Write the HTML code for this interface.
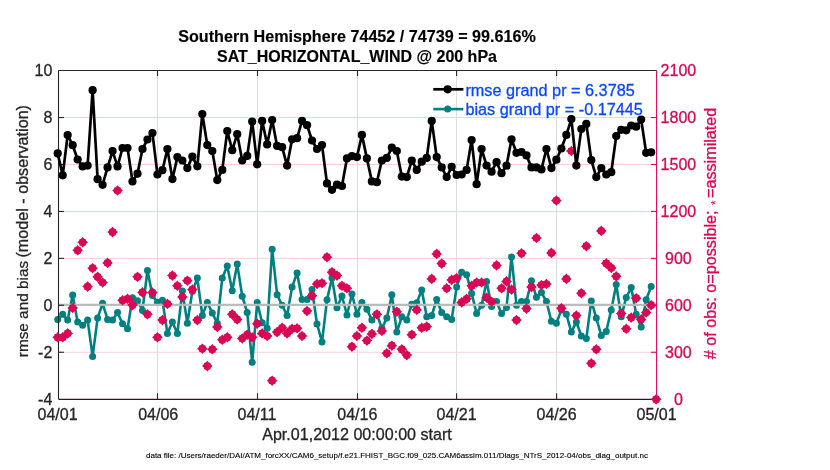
<!DOCTYPE html><html><head><meta charset="utf-8"><style>html,body{margin:0;padding:0;background:#fff;}svg{display:block;will-change:transform;}</style></head><body>
<svg width="830" height="470" viewBox="0 0 830 470">
<rect width="830" height="470" fill="#fff"/>
<line x1="157.50" y1="70.6" x2="157.50" y2="399.2" stroke="#dcdcdc" stroke-width="1"/>
<line x1="257.50" y1="70.6" x2="257.50" y2="399.2" stroke="#dcdcdc" stroke-width="1"/>
<line x1="357.50" y1="70.6" x2="357.50" y2="399.2" stroke="#dcdcdc" stroke-width="1"/>
<line x1="456.60" y1="70.6" x2="456.60" y2="399.2" stroke="#dcdcdc" stroke-width="1"/>
<line x1="556.60" y1="70.6" x2="556.60" y2="399.2" stroke="#dcdcdc" stroke-width="1"/>
<line x1="58.5" y1="117.54" x2="656.6" y2="117.54" stroke="#f6d0dc" stroke-width="1"/>
<line x1="58.5" y1="164.49" x2="656.6" y2="164.49" stroke="#f6d0dc" stroke-width="1"/>
<line x1="58.5" y1="211.43" x2="656.6" y2="211.43" stroke="#f6d0dc" stroke-width="1"/>
<line x1="58.5" y1="258.37" x2="656.6" y2="258.37" stroke="#f6d0dc" stroke-width="1"/>
<line x1="58.5" y1="305.31" x2="656.6" y2="305.31" stroke="#f6d0dc" stroke-width="1"/>
<line x1="58.5" y1="352.26" x2="656.6" y2="352.26" stroke="#f6d0dc" stroke-width="1"/>
<polyline points="57.70,319.40 62.69,314.30 67.67,320.10 72.66,295.00 77.65,321.90 82.64,325.20 87.62,320.10 92.61,356.40 97.60,318.10 102.58,303.30 107.57,319.40 112.56,320.10 117.54,312.50 122.53,323.70 127.52,328.80 132.50,297.70 137.49,300.70 142.48,310.40 147.47,270.50 152.45,295.60 157.44,302.30 162.43,300.20 167.41,333.40 172.40,321.90 177.39,333.40 182.38,290.90 187.36,323.20 192.35,291.30 197.34,278.10 202.32,315.50 207.31,302.40 212.30,313.00 217.28,323.20 222.27,278.10 227.26,266.10 232.25,290.80 237.23,264.10 242.22,296.20 247.21,312.50 252.19,362.30 257.18,302.60 262.17,322.70 267.15,328.30 272.14,249.30 277.13,294.70 282.12,305.20 287.10,315.50 292.09,287.10 297.08,273.00 302.06,299.50 307.05,299.50 312.04,289.50 317.02,324.00 322.01,341.90 327.00,299.80 331.99,278.10 336.97,307.70 341.96,296.00 346.95,315.00 351.93,294.00 356.92,314.30 361.91,302.40 366.89,309.20 371.88,320.10 376.87,314.30 381.86,328.30 386.84,318.10 391.83,294.70 396.82,332.10 401.80,316.80 406.79,320.10 411.78,304.20 416.76,302.80 421.75,290.00 426.74,316.80 431.73,315.50 436.71,299.50 441.70,312.50 446.69,316.80 451.67,319.40 456.66,287.10 461.65,272.20 466.63,274.80 471.62,293.40 476.61,313.50 481.59,305.30 486.58,281.40 491.57,306.60 496.56,301.50 501.54,313.50 506.53,307.40 511.52,256.90 516.50,305.30 521.49,301.50 526.48,301.50 531.47,280.70 536.45,297.30 541.44,292.60 546.43,301.50 551.41,321.20 556.40,323.20 561.39,309.90 566.37,314.30 571.36,332.10 576.35,321.90 581.34,336.00 586.32,338.50 591.31,300.90 596.30,318.10 601.28,335.50 606.27,331.40 611.26,309.90 616.24,284.50 621.23,316.80 626.22,297.50 631.21,287.60 636.19,314.30 641.18,327.00 646.17,299.70 651.15,286.60" fill="none" stroke="#008080" stroke-width="2.6" stroke-linejoin="round"/>
<circle cx="57.70" cy="319.40" r="3.5" fill="#008080"/>
<circle cx="62.69" cy="314.30" r="3.5" fill="#008080"/>
<circle cx="67.67" cy="320.10" r="3.5" fill="#008080"/>
<circle cx="72.66" cy="295.00" r="3.5" fill="#008080"/>
<circle cx="77.65" cy="321.90" r="3.5" fill="#008080"/>
<circle cx="82.64" cy="325.20" r="3.5" fill="#008080"/>
<circle cx="87.62" cy="320.10" r="3.5" fill="#008080"/>
<circle cx="92.61" cy="356.40" r="3.5" fill="#008080"/>
<circle cx="97.60" cy="318.10" r="3.5" fill="#008080"/>
<circle cx="102.58" cy="303.30" r="3.5" fill="#008080"/>
<circle cx="107.57" cy="319.40" r="3.5" fill="#008080"/>
<circle cx="112.56" cy="320.10" r="3.5" fill="#008080"/>
<circle cx="117.54" cy="312.50" r="3.5" fill="#008080"/>
<circle cx="122.53" cy="323.70" r="3.5" fill="#008080"/>
<circle cx="127.52" cy="328.80" r="3.5" fill="#008080"/>
<circle cx="132.50" cy="297.70" r="3.5" fill="#008080"/>
<circle cx="137.49" cy="300.70" r="3.5" fill="#008080"/>
<circle cx="142.48" cy="310.40" r="3.5" fill="#008080"/>
<circle cx="147.47" cy="270.50" r="3.5" fill="#008080"/>
<circle cx="152.45" cy="295.60" r="3.5" fill="#008080"/>
<circle cx="157.44" cy="302.30" r="3.5" fill="#008080"/>
<circle cx="162.43" cy="300.20" r="3.5" fill="#008080"/>
<circle cx="167.41" cy="333.40" r="3.5" fill="#008080"/>
<circle cx="172.40" cy="321.90" r="3.5" fill="#008080"/>
<circle cx="177.39" cy="333.40" r="3.5" fill="#008080"/>
<circle cx="182.38" cy="290.90" r="3.5" fill="#008080"/>
<circle cx="187.36" cy="323.20" r="3.5" fill="#008080"/>
<circle cx="192.35" cy="291.30" r="3.5" fill="#008080"/>
<circle cx="197.34" cy="278.10" r="3.5" fill="#008080"/>
<circle cx="202.32" cy="315.50" r="3.5" fill="#008080"/>
<circle cx="207.31" cy="302.40" r="3.5" fill="#008080"/>
<circle cx="212.30" cy="313.00" r="3.5" fill="#008080"/>
<circle cx="217.28" cy="323.20" r="3.5" fill="#008080"/>
<circle cx="222.27" cy="278.10" r="3.5" fill="#008080"/>
<circle cx="227.26" cy="266.10" r="3.5" fill="#008080"/>
<circle cx="232.25" cy="290.80" r="3.5" fill="#008080"/>
<circle cx="237.23" cy="264.10" r="3.5" fill="#008080"/>
<circle cx="242.22" cy="296.20" r="3.5" fill="#008080"/>
<circle cx="247.21" cy="312.50" r="3.5" fill="#008080"/>
<circle cx="252.19" cy="362.30" r="3.5" fill="#008080"/>
<circle cx="257.18" cy="302.60" r="3.5" fill="#008080"/>
<circle cx="262.17" cy="322.70" r="3.5" fill="#008080"/>
<circle cx="267.15" cy="328.30" r="3.5" fill="#008080"/>
<circle cx="272.14" cy="249.30" r="3.5" fill="#008080"/>
<circle cx="277.13" cy="294.70" r="3.5" fill="#008080"/>
<circle cx="282.12" cy="305.20" r="3.5" fill="#008080"/>
<circle cx="287.10" cy="315.50" r="3.5" fill="#008080"/>
<circle cx="292.09" cy="287.10" r="3.5" fill="#008080"/>
<circle cx="297.08" cy="273.00" r="3.5" fill="#008080"/>
<circle cx="302.06" cy="299.50" r="3.5" fill="#008080"/>
<circle cx="307.05" cy="299.50" r="3.5" fill="#008080"/>
<circle cx="312.04" cy="289.50" r="3.5" fill="#008080"/>
<circle cx="317.02" cy="324.00" r="3.5" fill="#008080"/>
<circle cx="322.01" cy="341.90" r="3.5" fill="#008080"/>
<circle cx="327.00" cy="299.80" r="3.5" fill="#008080"/>
<circle cx="331.99" cy="278.10" r="3.5" fill="#008080"/>
<circle cx="336.97" cy="307.70" r="3.5" fill="#008080"/>
<circle cx="341.96" cy="296.00" r="3.5" fill="#008080"/>
<circle cx="346.95" cy="315.00" r="3.5" fill="#008080"/>
<circle cx="351.93" cy="294.00" r="3.5" fill="#008080"/>
<circle cx="356.92" cy="314.30" r="3.5" fill="#008080"/>
<circle cx="361.91" cy="302.40" r="3.5" fill="#008080"/>
<circle cx="366.89" cy="309.20" r="3.5" fill="#008080"/>
<circle cx="371.88" cy="320.10" r="3.5" fill="#008080"/>
<circle cx="376.87" cy="314.30" r="3.5" fill="#008080"/>
<circle cx="381.86" cy="328.30" r="3.5" fill="#008080"/>
<circle cx="386.84" cy="318.10" r="3.5" fill="#008080"/>
<circle cx="391.83" cy="294.70" r="3.5" fill="#008080"/>
<circle cx="396.82" cy="332.10" r="3.5" fill="#008080"/>
<circle cx="401.80" cy="316.80" r="3.5" fill="#008080"/>
<circle cx="406.79" cy="320.10" r="3.5" fill="#008080"/>
<circle cx="411.78" cy="304.20" r="3.5" fill="#008080"/>
<circle cx="416.76" cy="302.80" r="3.5" fill="#008080"/>
<circle cx="421.75" cy="290.00" r="3.5" fill="#008080"/>
<circle cx="426.74" cy="316.80" r="3.5" fill="#008080"/>
<circle cx="431.73" cy="315.50" r="3.5" fill="#008080"/>
<circle cx="436.71" cy="299.50" r="3.5" fill="#008080"/>
<circle cx="441.70" cy="312.50" r="3.5" fill="#008080"/>
<circle cx="446.69" cy="316.80" r="3.5" fill="#008080"/>
<circle cx="451.67" cy="319.40" r="3.5" fill="#008080"/>
<circle cx="456.66" cy="287.10" r="3.5" fill="#008080"/>
<circle cx="461.65" cy="272.20" r="3.5" fill="#008080"/>
<circle cx="466.63" cy="274.80" r="3.5" fill="#008080"/>
<circle cx="471.62" cy="293.40" r="3.5" fill="#008080"/>
<circle cx="476.61" cy="313.50" r="3.5" fill="#008080"/>
<circle cx="481.59" cy="305.30" r="3.5" fill="#008080"/>
<circle cx="486.58" cy="281.40" r="3.5" fill="#008080"/>
<circle cx="491.57" cy="306.60" r="3.5" fill="#008080"/>
<circle cx="496.56" cy="301.50" r="3.5" fill="#008080"/>
<circle cx="501.54" cy="313.50" r="3.5" fill="#008080"/>
<circle cx="506.53" cy="307.40" r="3.5" fill="#008080"/>
<circle cx="511.52" cy="256.90" r="3.5" fill="#008080"/>
<circle cx="516.50" cy="305.30" r="3.5" fill="#008080"/>
<circle cx="521.49" cy="301.50" r="3.5" fill="#008080"/>
<circle cx="526.48" cy="301.50" r="3.5" fill="#008080"/>
<circle cx="531.47" cy="280.70" r="3.5" fill="#008080"/>
<circle cx="536.45" cy="297.30" r="3.5" fill="#008080"/>
<circle cx="541.44" cy="292.60" r="3.5" fill="#008080"/>
<circle cx="546.43" cy="301.50" r="3.5" fill="#008080"/>
<circle cx="551.41" cy="321.20" r="3.5" fill="#008080"/>
<circle cx="556.40" cy="323.20" r="3.5" fill="#008080"/>
<circle cx="561.39" cy="309.90" r="3.5" fill="#008080"/>
<circle cx="566.37" cy="314.30" r="3.5" fill="#008080"/>
<circle cx="571.36" cy="332.10" r="3.5" fill="#008080"/>
<circle cx="576.35" cy="321.90" r="3.5" fill="#008080"/>
<circle cx="581.34" cy="336.00" r="3.5" fill="#008080"/>
<circle cx="586.32" cy="338.50" r="3.5" fill="#008080"/>
<circle cx="591.31" cy="300.90" r="3.5" fill="#008080"/>
<circle cx="596.30" cy="318.10" r="3.5" fill="#008080"/>
<circle cx="601.28" cy="335.50" r="3.5" fill="#008080"/>
<circle cx="606.27" cy="331.40" r="3.5" fill="#008080"/>
<circle cx="611.26" cy="309.90" r="3.5" fill="#008080"/>
<circle cx="616.24" cy="284.50" r="3.5" fill="#008080"/>
<circle cx="621.23" cy="316.80" r="3.5" fill="#008080"/>
<circle cx="626.22" cy="297.50" r="3.5" fill="#008080"/>
<circle cx="631.21" cy="287.60" r="3.5" fill="#008080"/>
<circle cx="636.19" cy="314.30" r="3.5" fill="#008080"/>
<circle cx="641.18" cy="327.00" r="3.5" fill="#008080"/>
<circle cx="646.17" cy="299.70" r="3.5" fill="#008080"/>
<circle cx="651.15" cy="286.60" r="3.5" fill="#008080"/>
<line x1="58.5" y1="304.41" x2="656.6" y2="304.41" stroke="#b9b9b9" stroke-width="1.2"/>
<line x1="58.5" y1="305.61" x2="656.6" y2="305.61" stroke="#dcaabb" stroke-width="1"/>
<line x1="58.5" y1="70.5" x2="656.6" y2="70.5" stroke="#262626" stroke-width="1.1"/>
<line x1="58.5" y1="399.3" x2="656.6" y2="399.3" stroke="#3a1020" stroke-width="1.2"/>
<line x1="58.5" y1="70.6" x2="58.5" y2="399.2" stroke="#262626" stroke-width="1.1"/>
<line x1="656.6" y1="70.6" x2="656.6" y2="399.2" stroke="#d90754" stroke-width="1.1"/>
<line x1="157.50" y1="399.2" x2="157.50" y2="393.2" stroke="#262626" stroke-width="1.1"/>
<line x1="157.50" y1="70.6" x2="157.50" y2="76.1" stroke="#262626" stroke-width="1.1"/>
<line x1="257.50" y1="399.2" x2="257.50" y2="393.2" stroke="#262626" stroke-width="1.1"/>
<line x1="257.50" y1="70.6" x2="257.50" y2="76.1" stroke="#262626" stroke-width="1.1"/>
<line x1="357.50" y1="399.2" x2="357.50" y2="393.2" stroke="#262626" stroke-width="1.1"/>
<line x1="357.50" y1="70.6" x2="357.50" y2="76.1" stroke="#262626" stroke-width="1.1"/>
<line x1="456.60" y1="399.2" x2="456.60" y2="393.2" stroke="#262626" stroke-width="1.1"/>
<line x1="456.60" y1="70.6" x2="456.60" y2="76.1" stroke="#262626" stroke-width="1.1"/>
<line x1="556.60" y1="399.2" x2="556.60" y2="393.2" stroke="#262626" stroke-width="1.1"/>
<line x1="556.60" y1="70.6" x2="556.60" y2="76.1" stroke="#262626" stroke-width="1.1"/>
<line x1="58.5" y1="117.54" x2="64.0" y2="117.54" stroke="#262626" stroke-width="1.1"/>
<line x1="656.6" y1="117.54" x2="651.1" y2="117.54" stroke="#d90754" stroke-width="1.1"/>
<line x1="58.5" y1="164.49" x2="64.0" y2="164.49" stroke="#262626" stroke-width="1.1"/>
<line x1="656.6" y1="164.49" x2="651.1" y2="164.49" stroke="#d90754" stroke-width="1.1"/>
<line x1="58.5" y1="211.43" x2="64.0" y2="211.43" stroke="#262626" stroke-width="1.1"/>
<line x1="656.6" y1="211.43" x2="651.1" y2="211.43" stroke="#d90754" stroke-width="1.1"/>
<line x1="58.5" y1="258.37" x2="64.0" y2="258.37" stroke="#262626" stroke-width="1.1"/>
<line x1="656.6" y1="258.37" x2="651.1" y2="258.37" stroke="#d90754" stroke-width="1.1"/>
<line x1="58.5" y1="305.31" x2="64.0" y2="305.31" stroke="#262626" stroke-width="1.1"/>
<line x1="656.6" y1="305.31" x2="651.1" y2="305.31" stroke="#d90754" stroke-width="1.1"/>
<line x1="58.5" y1="352.26" x2="64.0" y2="352.26" stroke="#262626" stroke-width="1.1"/>
<line x1="656.6" y1="352.26" x2="651.1" y2="352.26" stroke="#d90754" stroke-width="1.1"/>
<defs><polygon id="pm" points="0.00,-5.30 1.49,-3.60 3.11,-3.11 3.60,-1.49 5.30,-0.00 3.60,1.49 3.11,3.11 1.49,3.60 0.00,5.30 -1.49,3.60 -3.11,3.11 -3.60,1.49 -5.30,0.00 -3.60,-1.49 -3.11,-3.11 -1.49,-3.60" fill="#d90754"/></defs>
<use href="#pm" x="57.70" y="337.30"/>
<use href="#pm" x="62.69" y="337.30"/>
<use href="#pm" x="67.67" y="333.40"/>
<use href="#pm" x="72.66" y="308.00"/>
<use href="#pm" x="77.65" y="250.30"/>
<use href="#pm" x="82.64" y="242.30"/>
<use href="#pm" x="87.62" y="286.60"/>
<use href="#pm" x="92.61" y="268.20"/>
<use href="#pm" x="97.60" y="276.80"/>
<use href="#pm" x="102.58" y="282.50"/>
<use href="#pm" x="107.57" y="262.90"/>
<use href="#pm" x="112.56" y="232.10"/>
<use href="#pm" x="117.54" y="190.50"/>
<use href="#pm" x="122.53" y="300.30"/>
<use href="#pm" x="127.52" y="298.80"/>
<use href="#pm" x="132.50" y="305.10"/>
<use href="#pm" x="137.49" y="276.80"/>
<use href="#pm" x="142.48" y="292.40"/>
<use href="#pm" x="147.47" y="314.30"/>
<use href="#pm" x="152.45" y="292.60"/>
<use href="#pm" x="157.44" y="337.30"/>
<use href="#pm" x="162.43" y="320.10"/>
<use href="#pm" x="167.41" y="303.90"/>
<use href="#pm" x="172.40" y="275.60"/>
<use href="#pm" x="177.39" y="285.80"/>
<use href="#pm" x="182.38" y="297.00"/>
<use href="#pm" x="187.36" y="280.70"/>
<use href="#pm" x="192.35" y="289.60"/>
<use href="#pm" x="197.34" y="320.10"/>
<use href="#pm" x="202.32" y="348.70"/>
<use href="#pm" x="207.31" y="366.10"/>
<use href="#pm" x="212.30" y="349.30"/>
<use href="#pm" x="217.28" y="327.00"/>
<use href="#pm" x="222.27" y="339.80"/>
<use href="#pm" x="227.26" y="337.30"/>
<use href="#pm" x="232.25" y="314.30"/>
<use href="#pm" x="237.23" y="319.40"/>
<use href="#pm" x="242.22" y="338.50"/>
<use href="#pm" x="247.21" y="334.70"/>
<use href="#pm" x="252.19" y="337.30"/>
<use href="#pm" x="257.18" y="323.70"/>
<use href="#pm" x="262.17" y="333.40"/>
<use href="#pm" x="267.15" y="336.00"/>
<use href="#pm" x="272.14" y="380.70"/>
<use href="#pm" x="277.13" y="332.10"/>
<use href="#pm" x="282.12" y="327.80"/>
<use href="#pm" x="287.10" y="333.40"/>
<use href="#pm" x="292.09" y="328.80"/>
<use href="#pm" x="297.08" y="328.30"/>
<use href="#pm" x="302.06" y="336.00"/>
<use href="#pm" x="307.05" y="311.00"/>
<use href="#pm" x="312.04" y="295.80"/>
<use href="#pm" x="317.02" y="284.00"/>
<use href="#pm" x="322.01" y="283.20"/>
<use href="#pm" x="327.00" y="257.20"/>
<use href="#pm" x="331.99" y="272.20"/>
<use href="#pm" x="336.97" y="275.60"/>
<use href="#pm" x="341.96" y="285.80"/>
<use href="#pm" x="346.95" y="288.30"/>
<use href="#pm" x="351.93" y="346.70"/>
<use href="#pm" x="356.92" y="336.00"/>
<use href="#pm" x="361.91" y="327.80"/>
<use href="#pm" x="366.89" y="340.60"/>
<use href="#pm" x="371.88" y="333.90"/>
<use href="#pm" x="376.87" y="314.30"/>
<use href="#pm" x="381.86" y="330.90"/>
<use href="#pm" x="386.84" y="353.30"/>
<use href="#pm" x="391.83" y="345.70"/>
<use href="#pm" x="396.82" y="311.70"/>
<use href="#pm" x="401.80" y="349.30"/>
<use href="#pm" x="406.79" y="355.10"/>
<use href="#pm" x="411.78" y="334.70"/>
<use href="#pm" x="416.76" y="309.90"/>
<use href="#pm" x="421.75" y="327.80"/>
<use href="#pm" x="426.74" y="326.60"/>
<use href="#pm" x="431.73" y="278.90"/>
<use href="#pm" x="436.71" y="253.90"/>
<use href="#pm" x="441.70" y="263.60"/>
<use href="#pm" x="446.69" y="288.30"/>
<use href="#pm" x="451.67" y="279.90"/>
<use href="#pm" x="456.66" y="278.10"/>
<use href="#pm" x="461.65" y="302.40"/>
<use href="#pm" x="466.63" y="298.80"/>
<use href="#pm" x="471.62" y="285.80"/>
<use href="#pm" x="476.61" y="282.50"/>
<use href="#pm" x="481.59" y="282.50"/>
<use href="#pm" x="486.58" y="297.70"/>
<use href="#pm" x="491.57" y="301.70"/>
<use href="#pm" x="496.56" y="265.40"/>
<use href="#pm" x="501.54" y="288.30"/>
<use href="#pm" x="506.53" y="281.40"/>
<use href="#pm" x="511.52" y="289.60"/>
<use href="#pm" x="516.50" y="320.10"/>
<use href="#pm" x="521.49" y="253.30"/>
<use href="#pm" x="526.48" y="308.60"/>
<use href="#pm" x="531.47" y="287.10"/>
<use href="#pm" x="536.45" y="238.00"/>
<use href="#pm" x="541.44" y="285.00"/>
<use href="#pm" x="546.43" y="284.00"/>
<use href="#pm" x="551.41" y="252.90"/>
<use href="#pm" x="556.40" y="200.50"/>
<use href="#pm" x="561.39" y="308.20"/>
<use href="#pm" x="566.37" y="278.90"/>
<use href="#pm" x="571.36" y="151.00"/>
<use href="#pm" x="576.35" y="315.50"/>
<use href="#pm" x="581.34" y="293.20"/>
<use href="#pm" x="586.32" y="246.20"/>
<use href="#pm" x="591.31" y="363.30"/>
<use href="#pm" x="596.30" y="349.30"/>
<use href="#pm" x="601.28" y="230.90"/>
<use href="#pm" x="606.27" y="263.30"/>
<use href="#pm" x="611.26" y="267.90"/>
<use href="#pm" x="616.24" y="276.30"/>
<use href="#pm" x="621.23" y="313.50"/>
<use href="#pm" x="626.22" y="328.80"/>
<use href="#pm" x="631.21" y="317.60"/>
<use href="#pm" x="636.19" y="298.20"/>
<use href="#pm" x="641.18" y="319.40"/>
<use href="#pm" x="646.17" y="312.50"/>
<use href="#pm" x="651.15" y="305.20"/>
<use href="#pm" x="656.14" y="399.30"/>
<polyline points="57.70,153.40 62.69,175.30 67.67,135.00 72.66,145.20 77.65,159.50 82.64,166.40 87.62,165.60 92.61,90.20 97.60,179.20 102.58,184.80 107.57,167.40 112.56,151.10 117.54,166.40 122.53,148.00 127.52,148.00 132.50,181.50 137.49,173.70 142.48,149.00 147.47,139.50 152.45,133.10 157.44,174.50 162.43,170.20 167.41,149.00 172.40,179.10 177.39,157.10 182.38,160.50 187.36,168.10 192.35,156.60 197.34,166.30 202.32,114.00 207.31,145.10 212.30,151.00 217.28,180.10 222.27,169.90 227.26,131.10 232.25,150.20 237.23,134.20 242.22,160.50 247.21,155.90 252.19,121.60 257.18,164.30 262.17,120.90 267.15,144.40 272.14,120.10 277.13,145.90 282.12,147.20 287.10,165.60 292.09,139.30 297.08,138.20 302.06,120.90 307.05,125.20 312.04,140.50 317.02,149.00 322.01,145.10 327.00,183.40 331.99,189.80 336.97,184.70 341.96,186.00 346.95,158.40 351.93,156.10 356.92,157.10 361.91,134.90 366.89,158.40 371.88,181.40 376.87,182.20 381.86,160.50 386.84,157.90 391.83,147.70 396.82,151.00 401.80,176.60 406.79,177.10 411.78,160.50 416.76,169.90 421.75,161.70 426.74,157.90 431.73,120.90 436.71,157.10 441.70,167.40 446.69,177.10 451.67,166.80 456.66,175.00 461.65,174.50 466.63,169.90 471.62,140.00 476.61,184.20 481.59,149.00 486.58,165.60 491.57,171.70 496.56,162.20 501.54,173.20 506.53,165.60 511.52,139.30 516.50,152.80 521.49,152.00 526.48,155.40 531.47,167.40 536.45,167.40 541.44,169.40 546.43,149.00 551.41,168.10 556.40,159.70 561.39,148.50 566.37,134.90 571.36,119.10 576.35,165.60 581.34,129.00 586.32,123.90 591.31,160.00 596.30,177.10 601.28,168.10 606.27,174.50 611.26,172.20 616.24,136.00 621.23,129.80 626.22,130.30 631.21,125.50 636.19,126.70 641.18,119.60 646.17,152.80 651.15,152.30" fill="none" stroke="#000" stroke-width="2.7" stroke-linejoin="round"/>
<circle cx="57.70" cy="153.40" r="4.1" fill="#000"/>
<circle cx="62.69" cy="175.30" r="4.1" fill="#000"/>
<circle cx="67.67" cy="135.00" r="4.1" fill="#000"/>
<circle cx="72.66" cy="145.20" r="4.1" fill="#000"/>
<circle cx="77.65" cy="159.50" r="4.1" fill="#000"/>
<circle cx="82.64" cy="166.40" r="4.1" fill="#000"/>
<circle cx="87.62" cy="165.60" r="4.1" fill="#000"/>
<circle cx="92.61" cy="90.20" r="4.1" fill="#000"/>
<circle cx="97.60" cy="179.20" r="4.1" fill="#000"/>
<circle cx="102.58" cy="184.80" r="4.1" fill="#000"/>
<circle cx="107.57" cy="167.40" r="4.1" fill="#000"/>
<circle cx="112.56" cy="151.10" r="4.1" fill="#000"/>
<circle cx="117.54" cy="166.40" r="4.1" fill="#000"/>
<circle cx="122.53" cy="148.00" r="4.1" fill="#000"/>
<circle cx="127.52" cy="148.00" r="4.1" fill="#000"/>
<circle cx="132.50" cy="181.50" r="4.1" fill="#000"/>
<circle cx="137.49" cy="173.70" r="4.1" fill="#000"/>
<circle cx="142.48" cy="149.00" r="4.1" fill="#000"/>
<circle cx="147.47" cy="139.50" r="4.1" fill="#000"/>
<circle cx="152.45" cy="133.10" r="4.1" fill="#000"/>
<circle cx="157.44" cy="174.50" r="4.1" fill="#000"/>
<circle cx="162.43" cy="170.20" r="4.1" fill="#000"/>
<circle cx="167.41" cy="149.00" r="4.1" fill="#000"/>
<circle cx="172.40" cy="179.10" r="4.1" fill="#000"/>
<circle cx="177.39" cy="157.10" r="4.1" fill="#000"/>
<circle cx="182.38" cy="160.50" r="4.1" fill="#000"/>
<circle cx="187.36" cy="168.10" r="4.1" fill="#000"/>
<circle cx="192.35" cy="156.60" r="4.1" fill="#000"/>
<circle cx="197.34" cy="166.30" r="4.1" fill="#000"/>
<circle cx="202.32" cy="114.00" r="4.1" fill="#000"/>
<circle cx="207.31" cy="145.10" r="4.1" fill="#000"/>
<circle cx="212.30" cy="151.00" r="4.1" fill="#000"/>
<circle cx="217.28" cy="180.10" r="4.1" fill="#000"/>
<circle cx="222.27" cy="169.90" r="4.1" fill="#000"/>
<circle cx="227.26" cy="131.10" r="4.1" fill="#000"/>
<circle cx="232.25" cy="150.20" r="4.1" fill="#000"/>
<circle cx="237.23" cy="134.20" r="4.1" fill="#000"/>
<circle cx="242.22" cy="160.50" r="4.1" fill="#000"/>
<circle cx="247.21" cy="155.90" r="4.1" fill="#000"/>
<circle cx="252.19" cy="121.60" r="4.1" fill="#000"/>
<circle cx="257.18" cy="164.30" r="4.1" fill="#000"/>
<circle cx="262.17" cy="120.90" r="4.1" fill="#000"/>
<circle cx="267.15" cy="144.40" r="4.1" fill="#000"/>
<circle cx="272.14" cy="120.10" r="4.1" fill="#000"/>
<circle cx="277.13" cy="145.90" r="4.1" fill="#000"/>
<circle cx="282.12" cy="147.20" r="4.1" fill="#000"/>
<circle cx="287.10" cy="165.60" r="4.1" fill="#000"/>
<circle cx="292.09" cy="139.30" r="4.1" fill="#000"/>
<circle cx="297.08" cy="138.20" r="4.1" fill="#000"/>
<circle cx="302.06" cy="120.90" r="4.1" fill="#000"/>
<circle cx="307.05" cy="125.20" r="4.1" fill="#000"/>
<circle cx="312.04" cy="140.50" r="4.1" fill="#000"/>
<circle cx="317.02" cy="149.00" r="4.1" fill="#000"/>
<circle cx="322.01" cy="145.10" r="4.1" fill="#000"/>
<circle cx="327.00" cy="183.40" r="4.1" fill="#000"/>
<circle cx="331.99" cy="189.80" r="4.1" fill="#000"/>
<circle cx="336.97" cy="184.70" r="4.1" fill="#000"/>
<circle cx="341.96" cy="186.00" r="4.1" fill="#000"/>
<circle cx="346.95" cy="158.40" r="4.1" fill="#000"/>
<circle cx="351.93" cy="156.10" r="4.1" fill="#000"/>
<circle cx="356.92" cy="157.10" r="4.1" fill="#000"/>
<circle cx="361.91" cy="134.90" r="4.1" fill="#000"/>
<circle cx="366.89" cy="158.40" r="4.1" fill="#000"/>
<circle cx="371.88" cy="181.40" r="4.1" fill="#000"/>
<circle cx="376.87" cy="182.20" r="4.1" fill="#000"/>
<circle cx="381.86" cy="160.50" r="4.1" fill="#000"/>
<circle cx="386.84" cy="157.90" r="4.1" fill="#000"/>
<circle cx="391.83" cy="147.70" r="4.1" fill="#000"/>
<circle cx="396.82" cy="151.00" r="4.1" fill="#000"/>
<circle cx="401.80" cy="176.60" r="4.1" fill="#000"/>
<circle cx="406.79" cy="177.10" r="4.1" fill="#000"/>
<circle cx="411.78" cy="160.50" r="4.1" fill="#000"/>
<circle cx="416.76" cy="169.90" r="4.1" fill="#000"/>
<circle cx="421.75" cy="161.70" r="4.1" fill="#000"/>
<circle cx="426.74" cy="157.90" r="4.1" fill="#000"/>
<circle cx="431.73" cy="120.90" r="4.1" fill="#000"/>
<circle cx="436.71" cy="157.10" r="4.1" fill="#000"/>
<circle cx="441.70" cy="167.40" r="4.1" fill="#000"/>
<circle cx="446.69" cy="177.10" r="4.1" fill="#000"/>
<circle cx="451.67" cy="166.80" r="4.1" fill="#000"/>
<circle cx="456.66" cy="175.00" r="4.1" fill="#000"/>
<circle cx="461.65" cy="174.50" r="4.1" fill="#000"/>
<circle cx="466.63" cy="169.90" r="4.1" fill="#000"/>
<circle cx="471.62" cy="140.00" r="4.1" fill="#000"/>
<circle cx="476.61" cy="184.20" r="4.1" fill="#000"/>
<circle cx="481.59" cy="149.00" r="4.1" fill="#000"/>
<circle cx="486.58" cy="165.60" r="4.1" fill="#000"/>
<circle cx="491.57" cy="171.70" r="4.1" fill="#000"/>
<circle cx="496.56" cy="162.20" r="4.1" fill="#000"/>
<circle cx="501.54" cy="173.20" r="4.1" fill="#000"/>
<circle cx="506.53" cy="165.60" r="4.1" fill="#000"/>
<circle cx="511.52" cy="139.30" r="4.1" fill="#000"/>
<circle cx="516.50" cy="152.80" r="4.1" fill="#000"/>
<circle cx="521.49" cy="152.00" r="4.1" fill="#000"/>
<circle cx="526.48" cy="155.40" r="4.1" fill="#000"/>
<circle cx="531.47" cy="167.40" r="4.1" fill="#000"/>
<circle cx="536.45" cy="167.40" r="4.1" fill="#000"/>
<circle cx="541.44" cy="169.40" r="4.1" fill="#000"/>
<circle cx="546.43" cy="149.00" r="4.1" fill="#000"/>
<circle cx="551.41" cy="168.10" r="4.1" fill="#000"/>
<circle cx="556.40" cy="159.70" r="4.1" fill="#000"/>
<circle cx="561.39" cy="148.50" r="4.1" fill="#000"/>
<circle cx="566.37" cy="134.90" r="4.1" fill="#000"/>
<circle cx="571.36" cy="119.10" r="4.1" fill="#000"/>
<circle cx="576.35" cy="165.60" r="4.1" fill="#000"/>
<circle cx="581.34" cy="129.00" r="4.1" fill="#000"/>
<circle cx="586.32" cy="123.90" r="4.1" fill="#000"/>
<circle cx="591.31" cy="160.00" r="4.1" fill="#000"/>
<circle cx="596.30" cy="177.10" r="4.1" fill="#000"/>
<circle cx="601.28" cy="168.10" r="4.1" fill="#000"/>
<circle cx="606.27" cy="174.50" r="4.1" fill="#000"/>
<circle cx="611.26" cy="172.20" r="4.1" fill="#000"/>
<circle cx="616.24" cy="136.00" r="4.1" fill="#000"/>
<circle cx="621.23" cy="129.80" r="4.1" fill="#000"/>
<circle cx="626.22" cy="130.30" r="4.1" fill="#000"/>
<circle cx="631.21" cy="125.50" r="4.1" fill="#000"/>
<circle cx="636.19" cy="126.70" r="4.1" fill="#000"/>
<circle cx="641.18" cy="119.60" r="4.1" fill="#000"/>
<circle cx="646.17" cy="152.80" r="4.1" fill="#000"/>
<circle cx="651.15" cy="152.30" r="4.1" fill="#000"/>
<text x="52.3" y="76.20" font-family="Liberation Sans, sans-serif" font-size="16" font-weight="normal" fill="#262626" stroke="#262626" stroke-width="0.3" text-anchor="end" >10</text>
<text x="678.4" y="76.20" font-family="Liberation Sans, sans-serif" font-size="16" font-weight="normal" fill="#d90754" stroke="#d90754" stroke-width="0.3" text-anchor="middle" >2100</text>
<text x="52.3" y="123.14" font-family="Liberation Sans, sans-serif" font-size="16" font-weight="normal" fill="#262626" stroke="#262626" stroke-width="0.3" text-anchor="end" >8</text>
<text x="678.4" y="123.14" font-family="Liberation Sans, sans-serif" font-size="16" font-weight="normal" fill="#d90754" stroke="#d90754" stroke-width="0.3" text-anchor="middle" >1800</text>
<text x="52.3" y="170.09" font-family="Liberation Sans, sans-serif" font-size="16" font-weight="normal" fill="#262626" stroke="#262626" stroke-width="0.3" text-anchor="end" >6</text>
<text x="678.4" y="170.09" font-family="Liberation Sans, sans-serif" font-size="16" font-weight="normal" fill="#d90754" stroke="#d90754" stroke-width="0.3" text-anchor="middle" >1500</text>
<text x="52.3" y="217.03" font-family="Liberation Sans, sans-serif" font-size="16" font-weight="normal" fill="#262626" stroke="#262626" stroke-width="0.3" text-anchor="end" >4</text>
<text x="678.4" y="217.03" font-family="Liberation Sans, sans-serif" font-size="16" font-weight="normal" fill="#d90754" stroke="#d90754" stroke-width="0.3" text-anchor="middle" >1200</text>
<text x="52.3" y="263.97" font-family="Liberation Sans, sans-serif" font-size="16" font-weight="normal" fill="#262626" stroke="#262626" stroke-width="0.3" text-anchor="end" >2</text>
<text x="678.4" y="263.97" font-family="Liberation Sans, sans-serif" font-size="16" font-weight="normal" fill="#d90754" stroke="#d90754" stroke-width="0.3" text-anchor="middle" >900</text>
<text x="52.3" y="310.91" font-family="Liberation Sans, sans-serif" font-size="16" font-weight="normal" fill="#262626" stroke="#262626" stroke-width="0.3" text-anchor="end" >0</text>
<text x="678.4" y="310.91" font-family="Liberation Sans, sans-serif" font-size="16" font-weight="normal" fill="#d90754" stroke="#d90754" stroke-width="0.3" text-anchor="middle" >600</text>
<text x="52.3" y="357.86" font-family="Liberation Sans, sans-serif" font-size="16" font-weight="normal" fill="#262626" stroke="#262626" stroke-width="0.3" text-anchor="end" >-2</text>
<text x="678.4" y="357.86" font-family="Liberation Sans, sans-serif" font-size="16" font-weight="normal" fill="#d90754" stroke="#d90754" stroke-width="0.3" text-anchor="middle" >300</text>
<text x="52.3" y="404.80" font-family="Liberation Sans, sans-serif" font-size="16" font-weight="normal" fill="#262626" stroke="#262626" stroke-width="0.3" text-anchor="end" >-4</text>
<text x="678.4" y="404.80" font-family="Liberation Sans, sans-serif" font-size="16" font-weight="normal" fill="#d90754" stroke="#d90754" stroke-width="0.3" text-anchor="middle" >0</text>
<text x="57.6" y="419.7" font-family="Liberation Sans, sans-serif" font-size="16" font-weight="normal" fill="#262626" stroke="#262626" stroke-width="0.3" text-anchor="middle" >04/01</text>
<text x="158.2" y="419.7" font-family="Liberation Sans, sans-serif" font-size="16" font-weight="normal" fill="#262626" stroke="#262626" stroke-width="0.3" text-anchor="middle" >04/06</text>
<text x="257.0" y="419.7" font-family="Liberation Sans, sans-serif" font-size="16" font-weight="normal" fill="#262626" stroke="#262626" stroke-width="0.3" text-anchor="middle" >04/11</text>
<text x="357.3" y="419.7" font-family="Liberation Sans, sans-serif" font-size="16" font-weight="normal" fill="#262626" stroke="#262626" stroke-width="0.3" text-anchor="middle" >04/16</text>
<text x="456.6" y="419.7" font-family="Liberation Sans, sans-serif" font-size="16" font-weight="normal" fill="#262626" stroke="#262626" stroke-width="0.3" text-anchor="middle" >04/21</text>
<text x="556.6" y="419.7" font-family="Liberation Sans, sans-serif" font-size="16" font-weight="normal" fill="#262626" stroke="#262626" stroke-width="0.3" text-anchor="middle" >04/26</text>
<text x="656.6" y="419.7" font-family="Liberation Sans, sans-serif" font-size="16" font-weight="normal" fill="#262626" stroke="#262626" stroke-width="0.3" text-anchor="middle" >05/01</text>
<text x="357" y="41.7" font-family="Liberation Sans, sans-serif" font-size="16.15" font-weight="bold" fill="#000" stroke="#000" stroke-width="0.15" text-anchor="middle" >Southern Hemisphere 74452 / 74739 = 99.616%</text>
<text x="357" y="61.7" font-family="Liberation Sans, sans-serif" font-size="16" font-weight="bold" fill="#000" stroke="#000" stroke-width="0.15" text-anchor="middle" >SAT_HORIZONTAL_WIND @ 200 hPa</text>
<text x="357" y="440.2" font-family="Liberation Sans, sans-serif" font-size="16.1" font-weight="normal" fill="#262626" stroke="#262626" stroke-width="0.3" text-anchor="middle" >Apr.01,2012 00:00:00 start</text>
<text x="146" y="457.9" font-family="Liberation Sans, sans-serif" font-size="8" font-weight="normal" fill="#000" stroke="#000" stroke-width="0.12" text-anchor="start" >data file: /Users/raeder/DAI/ATM_forcXX/CAM6_setup/f.e21.FHIST_BGC.f09_025.CAM6assim.011/Diags_NTrS_2012-04/obs_diag_output.nc</text>
<text transform="translate(28,357.2) rotate(-90)" font-family="Liberation Sans, sans-serif" font-size="15.33" fill="#262626" stroke="#262626" stroke-width="0.3" text-anchor="start">rmse and bias</text>
<text transform="translate(28,105.0) rotate(-90)" font-family="Liberation Sans, sans-serif" font-size="16.15" fill="#262626" stroke="#262626" stroke-width="0.3" text-anchor="end">(model - observation)</text>
<text transform="translate(716,233.5) rotate(-90)" font-family="Liberation Sans, sans-serif" font-size="16.2" fill="#d90754" stroke="#d90754" stroke-width="0.3" text-anchor="middle"># of obs: o=possible; <tspan font-size="13" dy="3.6" dx="0.6" stroke-width="0">*</tspan><tspan dy="-3.6" dx="2.2">=assimilated</tspan></text>
<line x1="433.3" y1="89.3" x2="463.4" y2="89.3" stroke="#000" stroke-width="2.7"/>
<circle cx="447.7" cy="89.3" r="4.1" fill="#000"/>
<line x1="433.3" y1="109.1" x2="463.4" y2="109.1" stroke="#008080" stroke-width="2.6"/>
<circle cx="447.7" cy="109.1" r="3.5" fill="#008080"/>
<text x="465.4" y="95.5" font-family="Liberation Sans, sans-serif" font-size="16.25" font-weight="normal" fill="#0a48ff" stroke="#0a48ff" stroke-width="0.3" text-anchor="start" >rmse grand pr = 6.3785</text>
<text x="465.4" y="114.9" font-family="Liberation Sans, sans-serif" font-size="16.25" font-weight="normal" fill="#0a48ff" stroke="#0a48ff" stroke-width="0.3" text-anchor="start" >bias grand pr = -0.17445</text>
</svg></body></html>
